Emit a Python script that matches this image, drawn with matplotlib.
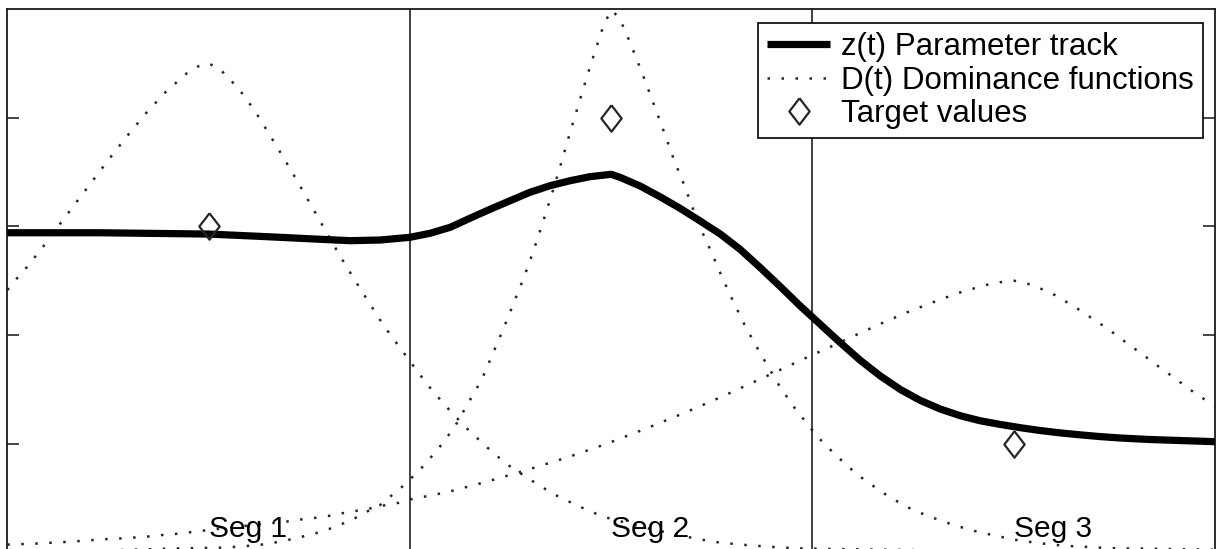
import matplotlib.pyplot as plt

plt.rcParams['font.family'] = ['Liberation Sans', 'DejaVu Sans']

# time axis in ms, three segments of 100 ms each
seg_bounds = [100, 200]
seg_labels = ['Seg 1', 'Seg 2', 'Seg 3']
target_t = [50, 150, 250]
target_v = [3, 4, 1]

# parameter track z(t)
z_t = [0, 23.0, 50.0, 64.4, 72.7, 77.7, 85.1, 92.6, 100.0, 105.0,
       110.0, 114.9, 119.9, 124.9, 129.8, 134.8, 139.8, 144.7, 150.0, 152.2,
       157.2, 162.1, 167.1, 172.1, 177.1, 182.0, 186.9, 191.9, 196.9, 201.9,
       206.9, 211.8, 216.8, 221.8, 226.7, 231.7, 236.7, 241.6, 246.6, 251.6,
       256.5, 261.5, 266.5, 271.4, 276.4, 283.8, 300]
z_v = [2.942, 2.942, 2.930, 2.906, 2.891, 2.882, 2.869, 2.875, 2.900, 2.937,
       2.992, 3.075, 3.158, 3.237, 3.314, 3.375, 3.421, 3.458, 3.480, 3.452,
       3.372, 3.274, 3.167, 3.050, 2.930, 2.790, 2.625, 2.450, 2.270, 2.100,
       1.930, 1.770, 1.625, 1.500, 1.400, 1.320, 1.258, 1.212, 1.178, 1.148,
       1.122, 1.100, 1.082, 1.066, 1.053, 1.039, 1.019]

# dominance functions D(t), one per segment
d1_t = [0, 1.9, 5.1, 9.4, 13.5, 17.7, 21.9, 26.0, 30.3, 34.7,
        39.4, 44.6, 47.6, 50.0, 52.7, 57.4, 61.5, 65.1, 68.7, 72.2,
        75.6, 79.1, 82.5, 86.1, 89.8, 93.5, 95.5, 100.0, 104.4, 108.9,
        113.7, 118.7, 123.9, 129.6, 135.5, 141.8, 148.0, 158.0, 168.6, 175.3,
        182.4, 189.2, 196.1, 205.1, 230, 260, 300]
d1_v = [2.415, 2.501, 2.636, 2.838, 3.044, 3.250, 3.455, 3.655, 3.857, 4.053,
        4.240, 4.410, 4.477, 4.500, 4.452, 4.272, 4.063, 3.848, 3.627, 3.406,
        3.185, 2.958, 2.737, 2.519, 2.302, 2.087, 1.985, 1.76, 1.541, 1.347,
        1.157, 0.982, 0.816, 0.676, 0.540, 0.427, 0.329, 0.23, 0.145, 0.098,
        0.071, 0.052, 0.038, 0.031, 0.02, 0.012, 0.007]

d2_t = [0, 20, 35, 41.0, 47.9, 52.7, 56.1, 59.5, 63.0, 66.3,
        69.8, 73.2, 76.6, 79.9, 83.1, 86.3, 89.3, 92.6, 95.1, 97.8,
        102.3, 106.8, 111.0, 114.4, 117.8, 123.1, 128.4, 130.7, 132.9, 135.0,
        137.0, 139.9, 141.9, 143.9, 146.0, 148.2, 150.0, 151.8, 153.4, 156.0,
        158.5, 160.9, 163.3, 165.6, 168.2, 171.8, 174.7, 177.4, 180.3, 183.3,
        186.7, 191.9, 195.8, 198.0, 201.4, 203.9, 206.4, 208.9, 211.5, 214.3,
        217.2, 220.1, 223.0, 226.2, 229.4, 232.6, 235.9, 239.3, 242.6, 246.0,
        249.4, 254.7, 258.2, 261.5, 265.0, 268.5, 271.8, 275.6, 300]
d2_v = [0.005, 0.015, 0.028, 0.036, 0.040, 0.043, 0.050, 0.059, 0.071, 0.090,
        0.115, 0.144, 0.176, 0.215, 0.261, 0.314, 0.375, 0.436, 0.513, 0.595,
        0.752, 0.942, 1.148, 1.369, 1.587, 2.047, 2.538, 2.777, 3.023, 3.268,
        3.510, 3.879, 4.124, 4.369, 4.615, 4.861, 4.99, 4.930, 4.808, 4.572,
        4.332, 4.093, 3.851, 3.612, 3.375, 3.013, 2.780, 2.544, 2.311, 2.081,
        1.854, 1.525, 1.317, 1.216, 1.059, 0.964, 0.875, 0.789, 0.706, 0.632,
        0.556, 0.491, 0.427, 0.372, 0.326, 0.283, 0.243, 0.206, 0.176, 0.151,
        0.121, 0.093, 0.077, 0.065, 0.056, 0.050, 0.043, 0.038, 0.025]

d3_t = [0, 2.7, 6.5, 9.9, 13.3, 16.8, 20.3, 23.8, 27.2, 30.7,
        34.0, 37.5, 41.0, 44.4, 47.9, 58.8, 69.9, 73.3, 76.7, 80.2,
        83.6, 86.9, 90.3, 93.8, 97.3, 100.4, 109.1, 119.1, 129.0, 138.9,
        148.9, 158.4, 167.9, 174.3, 180.7, 186.9, 193.1, 199.4, 204.5, 210.8,
        217.2, 223.5, 229.9, 236.4, 243.0, 246.5, 250.0, 254.3, 257.5, 260.7,
        263.6, 266.6, 269.4, 272.3, 275.1, 277.8, 280.7, 283.5, 286.2, 289.0,
        291.8, 294.5, 297.6, 300]
d3_v = [0.072, 0.075, 0.080, 0.087, 0.093, 0.102, 0.111, 0.121, 0.126, 0.135,
        0.142, 0.157, 0.167, 0.181, 0.197, 0.243, 0.286, 0.305, 0.319, 0.338,
        0.363, 0.384, 0.406, 0.434, 0.457, 0.490, 0.553, 0.651, 0.758, 0.872,
        1.000, 1.136, 1.280, 1.381, 1.488, 1.593, 1.700, 1.808, 1.893, 2.001,
        2.109, 2.210, 2.302, 2.390, 2.461, 2.486, 2.501, 2.464, 2.415, 2.360,
        2.293, 2.225, 2.155, 2.084, 2.010, 1.934, 1.856, 1.780, 1.704, 1.630,
        1.553, 1.479, 1.403, 1.347]

fig = plt.figure(figsize=(12.18, 5.49), dpi=100)
ax = fig.add_axes([7.3 / 1218, -3.4 / 549, 1207.8 / 1218, 543.25 / 549])

dot_style = dict(color='0.15', lw=1.8, ls=(0, (1, 4.6)))
ax.plot(d1_t, d1_v, label='D(t) Dominance functions', zorder=2, **dot_style)
ax.plot(d2_t, d2_v, zorder=2, **dot_style)
ax.plot(d3_t, d3_v, zorder=2, **dot_style)

for b in seg_bounds:
    ax.axvline(b, color='0.2', lw=1.3, zorder=1)

ax.plot(z_t, z_v, color='black', lw=5.2, solid_capstyle='butt',
        solid_joinstyle='round', label='z(t) Parameter track', zorder=3)

diamond = [(0, 1), (0.77, 0), (0, -1), (-0.77, 0), (0, 1)]
ax.plot(target_t, target_v, ls='none', marker=diamond, ms=19, mfc='none',
        mec='0.15', mew=1.6, label='Target values', zorder=4)

for t, lab in zip(target_t, seg_labels):
    ax.text(t, 0.146, lab, fontsize=21.5, ha='left', va='baseline')

ax.set_xlim(0, 300)
ax.set_ylim(0, 5)
ax.set_xticks([])
ax.set_yticks([1, 2, 3, 4])
ax.set_yticklabels([])
ax.tick_params(axis='y', direction='in', left=True, right=True,
               length=8.5, width=1.2, color='0.15')
for s in ax.spines.values():
    s.set_linewidth(1.3)
    s.set_color('0.1')

h, l = ax.get_legend_handles_labels()
order = [1, 0, 2]
leg = ax.legend([h[i] for i in order], [l[i] for i in order],
                loc='upper right', bbox_to_anchor=(0.990, 0.9745),
                borderaxespad=0, fontsize=22.5, fancybox=False,
                framealpha=1, edgecolor='black', handlelength=2.0,
                handletextpad=0.35, labelspacing=0.1, borderpad=0.3)
leg.get_frame().set_linewidth(1.2)

fig.savefig('out.png', dpi=100)
